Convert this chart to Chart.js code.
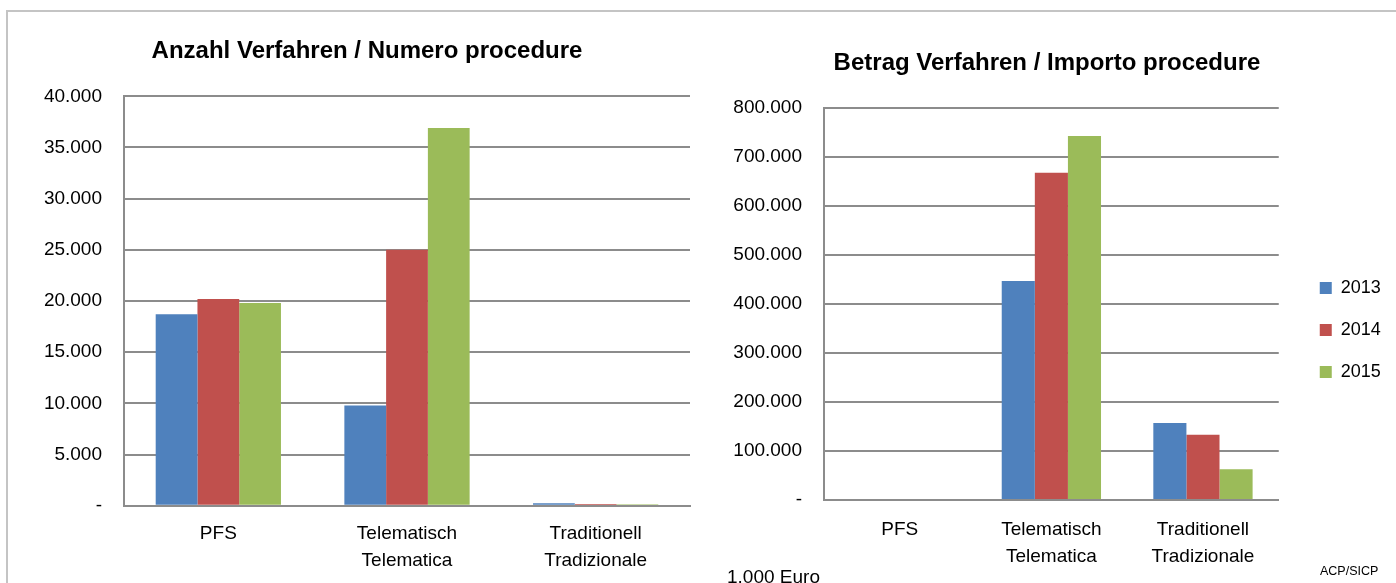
<!DOCTYPE html>
<html lang="de">
<head>
<meta charset="UTF-8">
<title>Anzahl und Betrag Verfahren</title>
<script src="https://cdn.jsdelivr.net/npm/chart.js"></script>
<style>
  body { margin: 0; background: #fff; font-family: "Liberation Sans", Arial, sans-serif; }
  #rahmen { position: absolute; left: 6px; top: 10px; width: 1400px; height: 600px; border: 2px solid #c4c4c4; }
  canvas { position: absolute; top: 0; }
  #links { left: 44px; }
  #rechts { left: 700px; }
  .notiz { position: absolute; color: #000; white-space: nowrap; }
</style>
</head>
<body>
<div id="rahmen"></div>
<canvas id="links" width="656" height="583"></canvas>
<canvas id="rechts" width="696" height="583"></canvas>
<div class="notiz" style="left:727px; top:566px; font-size:19px;">1.000 Euro</div>
<div class="notiz" style="left:1320px; top:564px; font-size:12.5px;">ACP/SICP</div>

<script>
// Kategorien und Jahre
const kategorien = ['PFS', ['Telematisch', 'Telematica'], ['Traditionell', 'Tradizionale']];
const jahre = ['2013', '2014', '2015'];
const farben = ['#4F81BD', '#C0504D', '#9BBB59'];

// Anzahl Verfahren / Numero procedure
const anzahl2013 = [18700, 9800, 230];
const anzahl2014 = [20200, 25000, 170];
const anzahl2015 = [19800, 36900, 130];

// Betrag Verfahren / Importo procedure (1.000 Euro)
const betrag2013 = [0, 447000, 157000];
const betrag2014 = [0, 668000, 133000];
const betrag2015 = [0, 743000, 63000];

const schrift = 'Liberation Sans, Arial, sans-serif';
const grau = '#8c8c8c';

function tausender(v) {
  if (v === 0) return '-';
  return String(v).replace(/\B(?=(\d{3})+(?!\d))/g, '.');
}

// schiebt die Legende nach rechts
const legendeVerschieben = {
  id: 'legendeVerschieben',
  afterLayout(chart, args, opts) {
    if (chart.legend && opts.dx) {
      chart.legend.left += opts.dx;
      chart.legend.right += opts.dx;
    }
  }
};

function zeichne(id, titel, reihen, o) {
  new Chart(document.getElementById(id), {
    type: 'bar',
    data: {
      labels: kategorien,
      datasets: reihen.map((werte, i) => ({
        label: jahre[i],
        data: werte,
        backgroundColor: farben[i],
        borderWidth: 0,
        categoryPercentage: o.kat,
        barPercentage: 1
      }))
    },
    options: {
      responsive: false,
      animation: false,
      layout: { padding: { left: o.padL, right: o.padR, top: 0, bottom: 0 } },
      scales: {
        x: {
          grid: { display: false, drawTicks: false },
          border: { display: true, color: grau, width: 2 },
          ticks: { color: '#000', padding: o.xAbstand, font: { family: schrift, size: 19, lineHeight: 1.39 } },
          afterFit: s => { s.height = o.xHoehe; }
        },
        y: {
          min: 0,
          max: o.max,
          grid: { color: grau, lineWidth: 2, drawTicks: false },
          border: { display: true, color: grau, width: 2 },
          ticks: { stepSize: o.schritt, color: '#000', padding: 22, font: { family: schrift, size: 19 }, callback: v => tausender(v) },
          afterFit: s => { s.width = o.yBreite; }
        }
      },
      plugins: {
        title: {
          display: true,
          text: titel,
          color: '#000',
          font: { family: schrift, size: 24, weight: 'bold', lineHeight: 1.2 },
          padding: { top: o.titelOben, bottom: o.titelUnten }
        },
        legend: {
          display: o.legende,
          position: 'right',
          align: 'start',
          title: { display: true, text: '', font: { size: 10, lineHeight: 1 }, padding: { top: 245, bottom: 0 } },
          labels: { color: '#000', boxWidth: 12, boxHeight: 12, padding: 24, font: { family: schrift, size: 18 } }
        },
        tooltip: { enabled: false },
        legendeVerschieben: { dx: o.dx }
      }
    },
    plugins: [legendeVerschieben]
  });
}

zeichne('links', 'Anzahl Verfahren / Numero procedure', [anzahl2013, anzahl2014, anzahl2015], {
  max: 40000, schritt: 5000, kat: 0.664, padL: 0, padR: 10, yBreite: 80, xHoehe: 77.3, xAbstand: 15,
  titelOben: 37, titelUnten: 30.5, legende: false, dx: 0
});

zeichne('rechts', 'Betrag Verfahren / Importo procedure', [betrag2013, betrag2014, betrag2015], {
  max: 800000, schritt: 100000, kat: 0.655, padL: 20.2, padR: 22.2, yBreite: 103.8, xHoehe: 83, xAbstand: 17,
  titelOben: 48.6, titelUnten: 30.6, legende: true, dx: 17
});
</script>
</body>
</html>
